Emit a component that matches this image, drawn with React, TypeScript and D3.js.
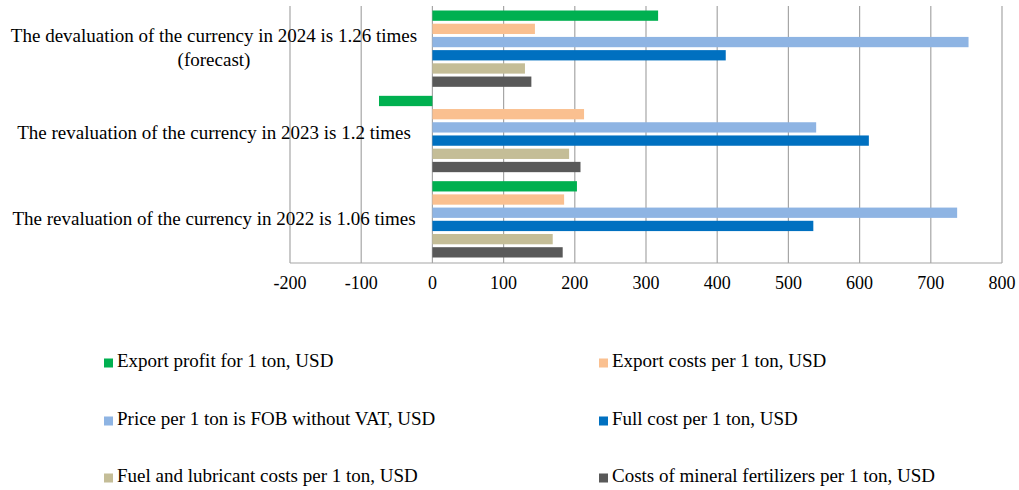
import React from "react";
import * as d3 from "d3";

const categoryKeys = ["2024", "2023", "2022"];
const categoryLines: string[][] = [
  ["The devaluation of the currency in 2024 is 1.26 times", "(forecast)"],
  ["The revaluation of the currency in 2023 is 1.2 times"],
  ["The revaluation of the currency in 2022 is 1.06 times"],
];

const seriesNames = [
  "Export profit for 1 ton, USD",
  "Export costs per 1 ton, USD",
  "Price per 1 ton is FOB without VAT, USD",
  "Full cost per 1 ton, USD",
  "Fuel and lubricant costs per 1 ton, USD",
  "Costs of mineral fertilizers per 1 ton, USD",
];
const seriesColors = ["#00B050", "#FAC090", "#8EB4E3", "#0070C0", "#C4BD97", "#595959"];

// values per category: [2024, 2023, 2022]
const exportProfit = [317, -75, 203];
const exportCosts = [144, 213, 185];
const priceFOB = [753, 539, 737];
const fullCost = [412, 613, 535];
const fuelCosts = [130, 192, 169];
const fertilizerCosts = [139, 208, 183];

const tickValues = [-200, -100, 0, 100, 200, 300, 400, 500, 600, 700, 800];

const seriesValues = [exportProfit, exportCosts, priceFOB, fullCost, fuelCosts, fertilizerCosts];

const W = 1019;
const H = 490;
const FONT = "'Liberation Serif', 'Times New Roman', serif";

export default function App() {
  const x = d3.scaleLinear().domain([-200, 800]).range([290, 1002]);
  const y = d3.scaleBand<string>().domain(categoryKeys).range([6, 262]).paddingInner(0).paddingOuter(0);
  const sub = d3
    .scaleBand<number>()
    .domain(d3.range(seriesNames.length))
    .range([4.5, y.bandwidth() - 4.5])
    .paddingInner(0.22)
    .paddingOuter(0);

  const legendCols = [104, 599];
  const legendRows = [363, 421, 478];

  return (
    <svg
      width={W}
      height={H}
      style={{ position: "absolute", left: 0, top: 0, background: "#fff" }}
      fontFamily={FONT}
    >
      {/* gridlines */}
      {tickValues.map((t) => (
        <line key={"g" + t} x1={x(t)} x2={x(t)} y1={6} y2={263} stroke="#a6a6a6" strokeWidth={1.2} />
      ))}
      {/* bottom axis */}
      <line x1={x(-200)} x2={x(800)} y1={263} y2={263} stroke="#a6a6a6" strokeWidth={1.2} />

      {/* bars */}
      {categoryKeys.map((c, ci) =>
        seriesValues.map((vals, si) => {
          const v = vals[ci];
          const x0 = x(Math.min(0, v));
          const x1 = x(Math.max(0, v));
          return (
            <rect
              key={c + "-" + si}
              x={x0}
              y={(y(c) as number) + (sub(si) as number)}
              width={x1 - x0}
              height={sub.bandwidth()}
              fill={seriesColors[si]}
            />
          );
        })
      )}

      {/* tick labels */}
      {tickValues.map((t) => (
        <text key={"t" + t} x={x(t)} y={285} textAnchor="middle" dominantBaseline="middle" fontSize={18} fill="#000">
          {t}
        </text>
      ))}

      {/* category labels */}
      {categoryKeys.map((c, ci) => {
        const lines = categoryLines[ci];
        const cy = (y(c) as number) + y.bandwidth() / 2 + 1;
        const lh = 24;
        return (
          <text key={"c" + c} textAnchor="middle" fontSize={19} fill="#000">
            {lines.map((ln, li) => (
              <tspan key={li} x={214} y={cy + (li - (lines.length - 1) / 2) * lh} dominantBaseline="middle">
                {ln}
              </tspan>
            ))}
          </text>
        );
      })}

      {/* legend */}
      {seriesNames.map((name, si) => {
        const col = si % 2;
        const row = Math.floor(si / 2);
        const lx = legendCols[col];
        const ly = legendRows[row];
        return (
          <g key={"l" + si}>
            <rect x={lx} y={ly - 4.5} width={9} height={9} fill={seriesColors[si]} />
            <text x={lx + 13} y={ly} dominantBaseline="middle" fontSize={19} fill="#000">
              {name}
            </text>
          </g>
        );
      })}
    </svg>
  );
}
